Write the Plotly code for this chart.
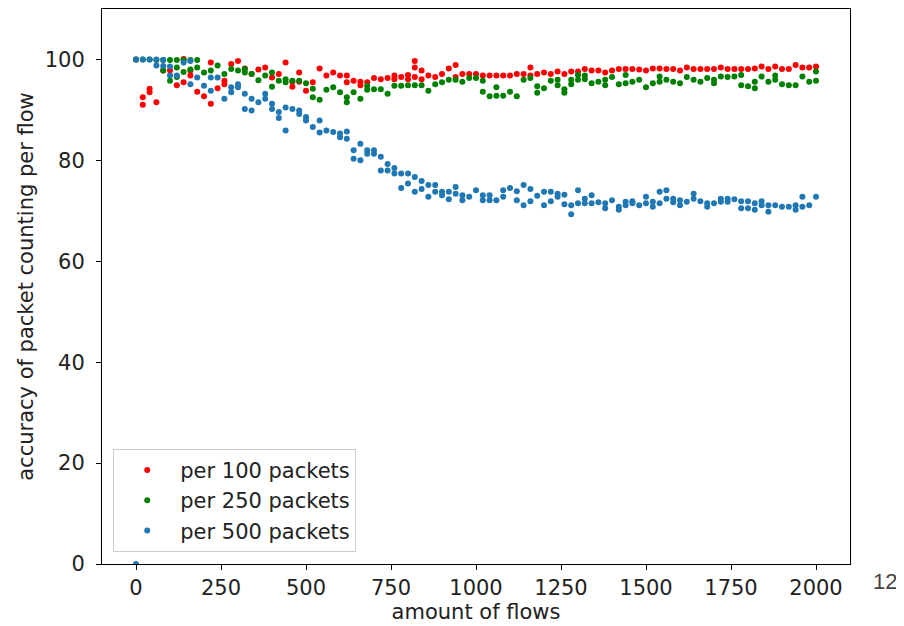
import plotly.graph_objects as go

# amount of flows (x grid of the measurements)
flows = list(range(0, 2001, 20))

# accuracy readings per x position (several runs can share one x)
acc_per_100 = [
    [100], [92.5, 91.0], [94.2, 93.5], [91.5], [97.8], [97.8], [94.9], [100.1, 95.5], [97.8, 96.8], [93.6],
    [92.7], [91.2, 99.4], [94.3], [95.8, 95.1], [99.1], [99.7], [98.2], [97.1], [98.0], [98.4],
    [96.4], [97.1], [99.4], [95.6, 94.6], [97.4, 95.6], [93.8], [95.5], [98.2], [96.8], [97.4],
    [96.8], [96.8, 95.5], [95.8], [95.6, 94.9], [95.5], [96.3], [96.1], [96.3], [96.8, 96.1], [96.5],
    [96.9, 96.1], [99.7, 98.4, 96.5], [97.8, 96.1], [96.8], [96.5], [97.1], [98.2], [98.9, 96.5], [97.1], [97.1],
    [97.1], [96.8], [96.8], [96.8], [96.8], [96.8], [97.1], [97.1], [98.4, 96.8], [97.1],
    [97.4], [97.1], [97.6], [97.1], [97.6], [97.6], [98.1], [97.8], [97.8], [97.4],
    [97.8], [98.1], [98.1], [98.1], [98.0], [97.8], [98.2], [98.2], [98.1], [98.1],
    [97.8], [98.4], [98.1], [98.1], [98.1], [98.1], [98.4], [98.1], [98.1], [98.1],
    [98.1], [98.2], [98.6], [98.1], [98.6], [98.1], [98.1], [98.9], [98.4], [98.4],
    [98.6],
]

acc_per_250 = [
    [100], [100], [100], [99.9], [99.9, 97.8], [99.9, 95.8], [99.9, 98.4, 96.5], [99.9, 97.5], [99.9, 98.0], [99.9, 98.4],
    [97.4], [97.8], [98.8], [97.1], [98.1], [97.8], [98.1, 97.4], [97.1], [95.9], [96.8],
    [97.4, 94.6], [95.8], [96.1, 95.5], [95.8], [95.8], [95.3], [94.2, 92.5], [92.0], [94.0], [94.5],
    [93.5], [92.5, 91.5], [93.5], [92.2], [94.8, 94.0], [94.1], [94.1], [93.2], [94.8], [94.8],
    [94.9], [94.9], [94.9], [93.8], [95.1], [95.5], [96.0], [96.0], [95.6], [96.3],
    [96.3], [95.8, 93.6], [92.7], [94.5, 92.8], [92.8], [93.6], [92.7], [96.0], [96.3], [94.7, 93.4],
    [94.3], [95.8], [96.0, 94.9], [94.1, 93.4], [96.0, 95.1], [96.9, 96.0], [96.8, 96.1], [95.3], [95.6], [96.0, 94.9],
    [96.5], [95.1], [96.9, 95.3], [95.6], [96.0], [94.5], [95.3], [96.6, 95.6], [96.0], [95.6],
    [95.3], [96.5], [96.0], [95.6], [96.3], [96.0, 95.3], [96.6], [96.5], [96.6], [96.9, 94.9],
    [94.7], [95.6, 94.3], [96.6], [95.6], [96.8, 96.0], [95.1], [94.9], [94.9], [96.6], [95.6],
    [97.6, 95.8],
]

acc_per_500 = [
    [100, 0], [100], [100], [98.8, 100], [99.9, 98.7], [98.6, 96.8], [96.8], [99.4], [99.7, 95.1], [96.4],
    [94.8], [96.4, 93.8], [96.4], [92.2], [94.5, 93.5], [95.1, 94.5], [93.2, 90.2], [92.2, 89.9], [91.5], [93.2, 92.2],
    [91.2, 90.2], [89.6, 88.4], [90.5, 85.9], [90.2], [89.9, 89.2], [88.6, 87.9], [86.6], [87.9, 85.5], [85.9], [85.6],
    [85.3, 84.6], [85.7, 84.3], [82.0, 80.3], [83.3, 80.0], [82.0, 81.3], [82.0, 81.3], [80.7, 78.0], [79.3, 78.0], [78.5, 77.4], [77.4, 74.5],
    [77.4, 75.4], [76.7, 73.8], [75.9, 74.3], [75.1, 72.8], [75.1, 73.8], [73.8, 73.1], [73.8, 72.3], [74.7, 73.4], [73.1, 72.1], [72.8],
    [74.1], [73.1, 72.1], [73.1, 72.1], [72.1], [74.1, 72.8], [74.5], [73.9, 72.1], [75.1, 71.1], [74.3, 71.9], [73.0],
    [73.8, 71.1], [73.8, 71.9], [73.4, 72.8], [73.2, 71.3], [71.1, 69.3], [74.1, 71.5], [72.4, 71.5], [73.1, 71.5], [71.7], [71.5, 70.5],
    [72.1], [70.8, 70.2], [71.8, 71.1], [71.9, 71.5], [71.1], [72.8, 71.5], [71.8, 70.8], [73.8, 71.5], [74.1, 72.4], [72.4, 71.7],
    [72.1, 71.1], [71.8], [73.4, 72.4], [71.9], [71.5, 70.8], [71.5], [72.4, 71.8], [72.4, 71.8], [72.3], [71.9, 70.5],
    [71.9, 70.5], [71.5, 70.2], [71.9, 71.1], [71.1, 69.8], [71.1], [70.8], [70.8], [71.1, 70.2], [72.8, 70.8], [71.1],
    [72.8],
]

series_names = ["per 100 packets", "per 250 packets", "per 500 packets"]
series_colors = ["#ff0000", "#008000", "#1f77b4"]
x_ticks = [0, 250, 500, 750, 1000, 1250, 1500, 1750, 2000]
y_ticks = [0, 20, 40, 60, 80, 100]


def flatten(values):
    xs, ys = [], []
    for fx, group in zip(flows, values):
        for v in group:
            xs.append(fx)
            ys.append(v)
    return xs, ys


FONT = "DejaVu Sans"
FS = 21
fig = go.Figure()
for name, color, vals in zip(series_names, series_colors,
                             [acc_per_100, acc_per_250, acc_per_500]):
    xs, ys = flatten(vals)
    fig.add_trace(go.Scatter(
        x=xs, y=ys, mode="markers", name=name,
        marker=dict(color=color, size=6, line=dict(width=0)),
    ))

axis_common = dict(
    showline=True, linecolor="black", linewidth=1, mirror=True,
    ticks="outside", ticklen=5, tickcolor="black", tickwidth=1,
    showgrid=False, zeroline=False,
    tickfont=dict(family=FONT, size=FS, color="#222"),
)

fig.update_xaxes(
    range=[-100, 2100], tickvals=x_ticks,
    title=dict(text="amount of flows", font=dict(family=FONT, size=FS, color="#222"), standoff=2),
    ticklabelstandoff=0,
    **axis_common,
)
fig.update_yaxes(
    range=[0, 110], tickvals=y_ticks,
    title=dict(text="accuracy of packet counting per flow", font=dict(family=FONT, size=FS, color="#222"), standoff=5),
    ticklabelstandoff=7,
    **axis_common,
)

fig.update_layout(
    width=896, height=618,
    margin=dict(l=94, r=54, t=1, b=62, autoexpand=False),
    paper_bgcolor="white", plot_bgcolor="white",
    showlegend=True,
    legend=dict(
        x=0.015, y=0.022, xanchor="left", yanchor="bottom",
        bgcolor="white", bordercolor="#cccccc", borderwidth=1,
        font=dict(family=FONT, size=FS, color="#222"),
        itemwidth=56, tracegroupgap=0,
    ),
    annotations=[dict(
        text="12", xref="paper", yref="paper", x=1.047, y=-0.032,
        xanchor="center", yanchor="middle", showarrow=False,
        font=dict(family="Liberation Sans", size=22, color="#444"),
    )],
)

fig.write_html("out.html")
